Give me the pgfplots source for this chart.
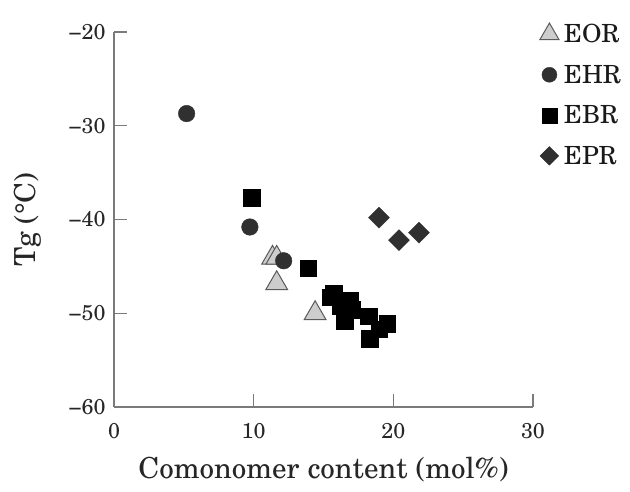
\documentclass[border=0pt]{standalone}
\usepackage{fontspec}
\setmainfont{TeX Gyre Schola}
\usepackage{pgfplots}
\pgfplotsset{compat=1.18}

\definecolor{axisgray}{HTML}{7A7A7A}
\definecolor{eorfill}{HTML}{CDCDCD}
\definecolor{eordraw}{HTML}{5A5A5A}
\definecolor{darkmark}{HTML}{303030}

\begin{document}
\begin{tikzpicture}
\begin{axis}[
  scale only axis,
  width=419pt, height=375pt,
  xmin=0, xmax=30, ymin=-60, ymax=-20,
  axis lines=left,
  axis line style={axisgray, line width=1.4pt, -},
  every tick/.style={axisgray, line width=1.4pt},
  tick align=inside,
  major tick length=13pt,
  xtick={0,10,20,30}, ytick={-60,-50,-40,-30,-20},
  xticklabels={0,10,20,30},
  yticklabels={−60,−50,−40,−30,−20},
  tick label style={font=\fontsize{21.5}{24}\selectfont, text=black!85},
  xticklabel style={anchor=north, yshift=-13pt},
  yticklabel style={anchor=east, xshift=-5pt},
  xlabel={Comonomer content (mol\%)},
  ylabel={Tg (°C)},
  label style={font=\fontsize{29}{32}\selectfont, text=black!85},
  xlabel style={at={(axis description cs:0.5,-0.168)}, anchor=center},
  ylabel style={at={(axis description cs:-0.205,0.5)}, anchor=center, rotate=0},
  legend style={at={(1.016,1.027)}, anchor=north west, draw=none, fill=none,
    font=\fontsize{25}{28}\selectfont, text=black!90,
    row sep=17pt, inner sep=0pt,
    /tikz/every odd column/.append style={column sep=3pt}},
  legend cell align=left,
  clip=false,
]
% legend entries in reading order
\addlegendimage{only marks, mark=triangle*, mark size=11pt, mark options={fill=eorfill, draw=eordraw, line width=1pt}}
\addlegendentry{EOR}
\addlegendimage{only marks, mark=*, mark size=7.5pt, mark options={fill=darkmark, draw=darkmark}}
\addlegendentry{EHR}
\addlegendimage{only marks, mark=square*, mark size=7.5pt, mark options={fill=black, draw=black}}
\addlegendentry{EBR}
\addlegendimage{only marks, mark=square*, mark size=6.6pt, mark options={fill=darkmark, draw=darkmark, rotate=45}}
\addlegendentry{EPR}

% EBR
\addplot[only marks, mark=square*, mark size=8.3pt, mark options={fill=black, draw=black}, forget plot]
coordinates {
  (9.85,-37.7) (13.9,-45.2)
  (15.5,-48.3) (15.75,-47.9) (16.9,-48.6) (16.5,-50.8)
  (17.0,-49.6) (16.2,-49.2) (18.25,-50.3) (18.3,-52.7) (19.0,-51.7) (19.56,-51.1)
};
% EOR
\addplot[only marks, mark=triangle*, mark size=12.5pt, mark options={fill=eorfill, draw=eordraw, line width=1pt}, forget plot]
coordinates {(11.35,-44.1) (11.65,-44.1) (11.65,-46.8) (14.4,-50.0)};
% EHR
\addplot[only marks, mark=*, mark size=8.3pt, mark options={fill=darkmark, draw=darkmark}, forget plot]
coordinates {(5.2,-28.7) (9.73,-40.8) (12.15,-44.4)};
% EPR
\addplot[only marks, mark=square*, mark size=7.4pt, mark options={fill=darkmark, draw=darkmark, rotate=45}, forget plot]
coordinates {(18.97,-39.8) (20.4,-42.2) (21.83,-41.4)};
\end{axis}
\path[use as bounding box] (-114pt,-84pt) rectangle (516pt,407pt);
\end{tikzpicture}
\end{document}
